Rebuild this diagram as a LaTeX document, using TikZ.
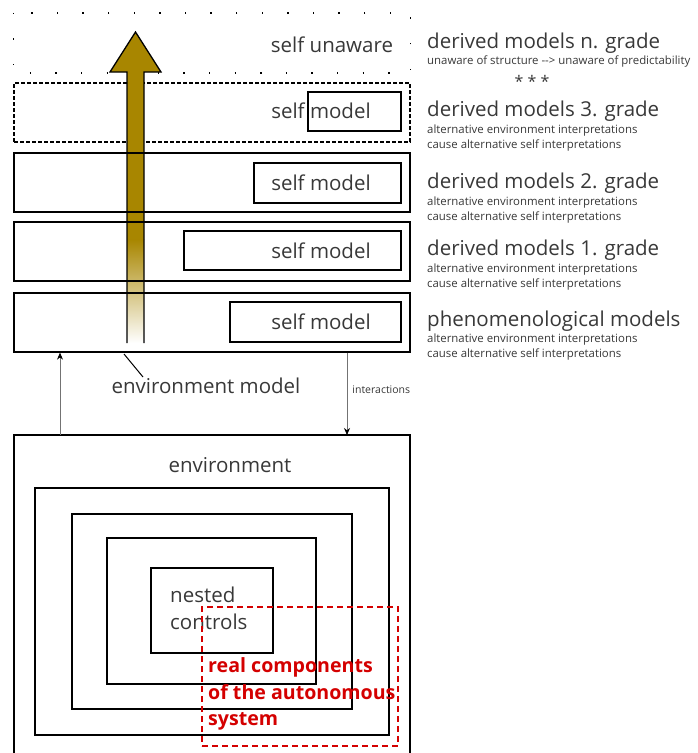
\documentclass[tikz,border=0pt]{standalone}
\usepackage{fontspec}
\setmainfont{Open Sans}
\usetikzlibrary{arrows.meta}
\definecolor{txt}{HTML}{383838}
\definecolor{gold}{RGB}{168,134,0}
\definecolor{realred}{HTML}{D40000}
\tikzset{
  layer/.style={draw, line width=1.3pt, minimum width=396pt, minimum height=59pt, inner sep=0pt},
  selfbox/.style={draw, line width=1.3pt, inner sep=0pt},
  nestbox/.style={draw, line width=1.5pt, inner sep=0pt},
  big/.style={text=txt, font=\fontsize{20.5}{23}\selectfont, inner sep=0pt},
  small/.style={text=txt, font=\fontsize{11.4}{15}\selectfont, inner sep=0pt, align=left},
  flow/.style={draw=black!55, line width=0.8pt, -{Stealth[black,length=7pt,width=6pt]}}
}
\begin{document}
\begin{tikzpicture}[x=1pt,y=-1pt]
            \useasboundingbox (0,0) rectangle (698,753);

            \node[layer, draw=none] (layn) at (212,43) {};
            \draw[line width=1.4pt, dash pattern=on 1.3pt off 24.3pt] (layn.north west) rectangle (layn.south east);
            \node[layer, dash pattern=on 4pt off 2pt] (lay3) at (212,112.5) {};

            \coordinate (tip) at (135.5,32);
            \fill[gold] (127,240) -- (127,72) -- (110,72) -- (tip) -- (161,72) -- (144,72) -- (144,240) -- cycle;
            \shade[top color=gold, bottom color=white] (127,239.5) rectangle (144,343);
            \draw[line width=1.3pt] (127,343) -- (127,72) -- (110,72) -- (tip) -- (161,72) -- (144,72) -- (144,343);

            \node[layer] (lay2) at (212,182.5) {};
            \node[layer] (lay1) at (212,251.5) {};
            \node[layer] (lay0) at (212,322.5) {};

            \node[selfbox, minimum width=93pt, minimum height=39pt] (sm3) at (354.5,111.5) {};
            \node[selfbox, minimum width=147pt, minimum height=40pt] (sm2) at (327.5,183) {};
            \node[selfbox, minimum width=217pt, minimum height=39pt] (sm1) at (292.5,250.5) {};
            \node[selfbox, minimum width=171pt, minimum height=40pt] (sm0) at (315.5,322) {};

            \node[big] (unaware) at (332,45) {self unaware};
            \node[big] (self3) at (321,111) {self model};
            \node[big] (self2) at (321,183) {self model};
            \node[big] (self1) at (321,251) {self model};
            \node[big] (self0) at (321,322) {self model};

            \node[big, anchor=west] (gradn) at (427,43) {derived models n. grade};
            \node[small, anchor=west] (subn) at (427,62) {unaware of structure {-}{-}> unaware of predictability};
            \node[big, font=\fontsize{16}{18}\selectfont] (stars) at (532,81) {* * *};
            \node[big, anchor=west] (grad3) at (427,111) {derived models 3. grade};
            \node[small, anchor=west] (sub3) at (427,138.5) {alternative environment interpretations\\cause alternative self interpretations};
            \node[big, anchor=west] (grad2) at (427,183) {derived models 2. grade};
            \node[small, anchor=west] (sub2) at (427,210.5) {alternative environment interpretations\\cause alternative self interpretations};
            \node[big, anchor=west] (grad1) at (427,250) {derived models 1. grade};
            \node[small, anchor=west] (sub1) at (427,277.5) {alternative environment interpretations\\cause alternative self interpretations};
            \node[big, anchor=west] (phen) at (427,321) {phenomenological models};
            \node[small, anchor=west] (sub0) at (427,347.5) {alternative environment interpretations\\cause alternative self interpretations};

            \coordinate (ptr) at (124,354);
            \coordinate (ptrend) at (143,377);
            \draw[line width=1pt] (ptr) -- (ptrend);
            \node[big] (envmodel) at (206,386) {environment model};

            \coordinate (envNW) at (14,435);
            \coordinate (envNE) at (410,435);
            \coordinate (upx) at (60,0);
            \coordinate (downx) at (347,0);
            \draw[line width=1.5pt] (14,753) -- (envNW) -- (envNE) -- (410,753);
            \draw[flow] (envNW -| upx) -- (lay0.south -| upx);
            \draw[flow] (lay0.south -| downx) -- node[pos=0.45, right, small, font=\fontsize{10.5}{12}\selectfont, xshift=5pt]{interactions} (envNW -| downx);
            \node[big] (env) at (230,465) {environment};

            \node[nestbox, minimum width=354pt, minimum height=247pt] (nestA) at (212,611.5) {};
            \node[nestbox, minimum width=280pt, minimum height=195pt] (nestB) at (212,611.5) {};
            \node[nestbox, minimum width=209pt, minimum height=146pt] (nestC) at (211.5,611) {};
            \node[nestbox, minimum width=122pt, minimum height=85pt] (nestD) at (212,610.5) {};
            \node[big, anchor=west, align=left, font=\fontsize{20.5}{27}\selectfont] (nested) at (170,608.5) {nested\\controls};

            \node[draw=realred, line width=1.2pt, dash pattern=on 6pt off 4pt, minimum width=196pt, minimum height=139pt, inner sep=0pt] (real) at (300,676.5) {};
            \node[anchor=west, align=left, text=realred, inner sep=0pt, font=\bfseries\fontsize{19.6}{26.5}\selectfont] (realtxt) at (208,694) {real components\\of the autonomous\\system};
\end{tikzpicture}
\end{document}
